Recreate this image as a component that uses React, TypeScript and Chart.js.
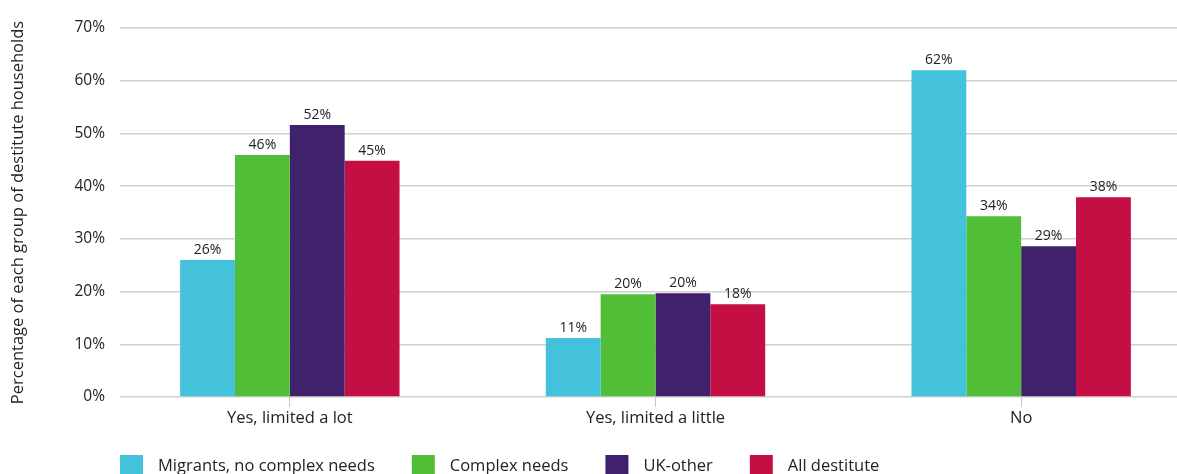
import React, { useEffect, useRef } from 'react';
import { Chart, registerables } from 'chart.js';

Chart.register(...registerables);

const categories = ['Yes, limited a lot', 'Yes, limited a little', 'No'];
const seriesNames = ['Migrants, no complex needs', 'Complex needs', 'UK-other', 'All destitute'];
const migrants = [26.0, 11.2, 62.0];
const complexNeeds = [45.9, 19.5, 34.3];
const ukOther = [51.6, 19.7, 28.6];
const allDestitute = [44.8, 17.6, 37.9];
const seriesColors = ['#44C1DB', '#52BE38', '#40226C', '#C40F45'];
const yAxisTitle = 'Percentage of each group of destitute households';

const FONT = '"Open Sans", Lato, sans-serif';
const TEXT = '#222222';

const stretchX = {
  id: 'stretchX',
  afterLayout(chart: any) {
    const x = chart.scales.x;
    const a = chart.chartArea;
    x.left = a.left - 13;
    x.right = a.right + 27;
    x.width = x.right - x.left;
    x.configure();
  },
};

const barLabels = {
  id: 'barLabels',
  afterDatasetsDraw(chart: any) {
    const ctx = chart.ctx;
    ctx.save();
    ctx.font = `14px ${FONT}`;
    ctx.fillStyle = TEXT;
    ctx.textAlign = 'center';
    ctx.textBaseline = 'alphabetic';
    chart.data.datasets.forEach((ds: any, di: number) => {
      const meta = chart.getDatasetMeta(di);
      meta.data.forEach((bar: any, i: number) => {
        ctx.fillText(Math.round(ds.data[i]) + '%', bar.x, bar.y - 6);
      });
    });
    ctx.restore();
  },
};

const customLegend = {
  id: 'customLegend',
  afterDraw(chart: any) {
    const ctx = chart.ctx;
    ctx.save();
    ctx.font = `16.5px ${FONT}`;
    ctx.textBaseline = 'middle';
    ctx.textAlign = 'left';
    let x = chart.chartArea.left;
    const y = 455;
    chart.data.datasets.forEach((ds: any) => {
      ctx.fillStyle = ds.backgroundColor;
      ctx.fillRect(x, y, 23, 23);
      ctx.fillStyle = TEXT;
      const tx = x + 38;
      ctx.fillText(ds.label, tx, y + 11);
      x = tx + ctx.measureText(ds.label).width + 37;
    });
    ctx.restore();
  },
};

export default function App() {
  const ref = useRef<HTMLCanvasElement>(null);
  useEffect(() => {
    document.body.style.margin = '0';
    if (!ref.current) return;
    const data = [migrants, complexNeeds, ukOther, allDestitute];
    const chart = new Chart(ref.current, {
      type: 'bar',
      data: {
        labels: categories,
        datasets: data.map((d, i) => ({
          label: seriesNames[i],
          data: d,
          backgroundColor: seriesColors[i],
          borderWidth: 0,
          categoryPercentage: 0.6,
          barPercentage: 1.0,
        })),
      },
      options: {
        responsive: false,
        animation: false,
        layout: { padding: { top: 28, right: 0, bottom: 0, left: 0 } },
        plugins: {
          legend: { display: false },
          tooltip: { enabled: false },
        },
        scales: {
          x: {
            grid: {
              display: true,
              drawOnChartArea: false,
              drawTicks: true,
              tickLength: 10,
              offset: false,
              color: '#c8c8c8',
            },
            border: { display: false },
            ticks: {
              color: TEXT,
              font: { family: FONT, size: 16.5 },
              padding: 1,
              maxRotation: 0,
            },
            afterFit(scale: any) {
              scale.height = 77;
            },
          },
          y: {
            min: 0,
            max: 70,
            ticks: {
              stepSize: 10,
              color: TEXT,
              font: { family: FONT, size: 15.5 },
              padding: 15,
              callback: (v: any) => v + '%',
            },
            grid: {
              color: '#d0d0d0',
              lineWidth: 1.5,
              drawTicks: false,
            },
            border: { display: false },
            title: {
              display: true,
              text: yAxisTitle,
              color: TEXT,
              font: { family: FONT, size: 16.5 },
              padding: { top: 8, bottom: 0 },
            },
            afterFit(scale: any) {
              scale.width = 120;
            },
          },
        },
      },
      plugins: [stretchX, barLabels, customLegend],
    });
    return () => chart.destroy();
  }, []);
  return <canvas ref={ref} width={1177} height={474} style={{ display: 'block' }} />;
}
